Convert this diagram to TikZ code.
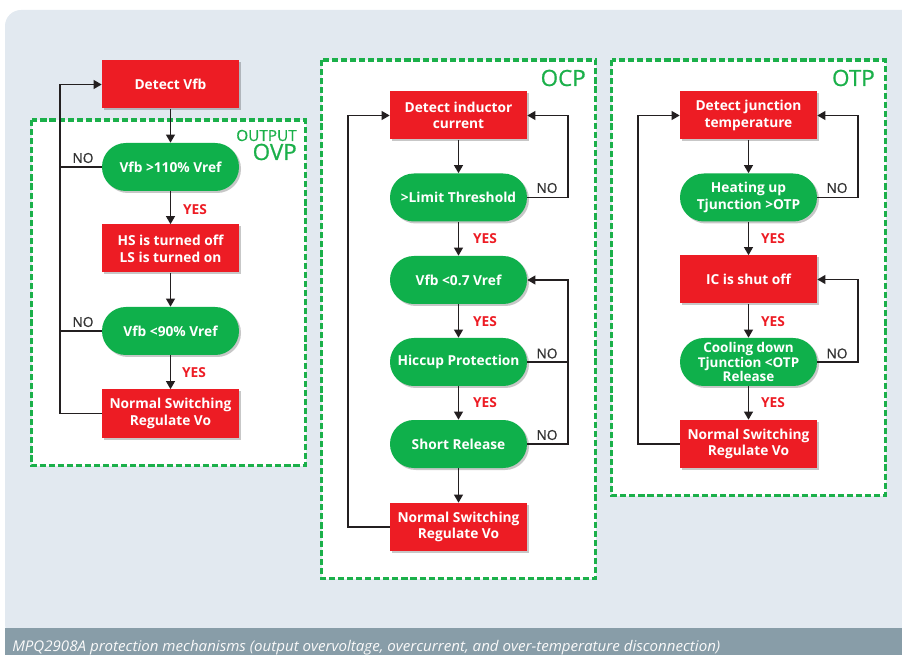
\documentclass[tikz,border=0pt]{standalone}
\usepackage{fontspec}
\setmainfont{Open Sans}
\newfontfamily\titlefont{Open Sans}[FakeBold=0.7]
\usetikzlibrary{arrows.meta,shadows}
\definecolor{mpsred}{HTML}{ED1C24}
\definecolor{mpsgreen}{HTML}{0FB04B}
\definecolor{dashgreen}{HTML}{1BB04A}
\definecolor{panelbg}{HTML}{E2E9F0}
\definecolor{capband}{HTML}{889DA8}
\definecolor{linegray}{HTML}{231F20}
\definecolor{nogray}{HTML}{333333}
\begin{document}
\begin{tikzpicture}[x=0.75pt,y=-0.75pt,
  base/.style={minimum width=102.75pt, minimum height=36pt, inner sep=0pt, align=center,
    text=white, font=\bfseries\fontsize{10.3}{12.5}\selectfont,
    drop shadow={opacity=0.22, shadow xshift=1.5pt, shadow yshift=-1.5pt, fill=black}},
  redbox/.style={base, fill=mpsred},
  pill/.style={base, fill=mpsgreen, rounded corners=17.9pt},
  tight/.style={font=\bfseries\fontsize{10.1}{10.6}\selectfont},
  frame/.style={draw=dashgreen, line width=2.3pt, dash pattern=on 4.6pt off 2.2pt, fill=white},
  conn/.style={draw=linegray, line width=1.25pt},
  arr/.style={conn, -{Triangle[length=6pt,width=6.5pt]}},
  yes/.style={text=mpsred, font=\bfseries\fontsize{10.3}{12}\selectfont, inner sep=0pt},
  no/.style={text=nogray, font=\titlefont\fontsize{10.3}{12}\selectfont, inner sep=0pt},
  ftitle/.style={text=dashgreen, anchor=base east, inner sep=0pt}]
\useasboundingbox (0,0) rectangle (902,655);
\clip (0,0) rectangle (902,655);
% background panel and caption band
\fill[panelbg, rounded corners=12] (5,10) rectangle (930,640);
\fill[capband] (5,628) rectangle (902,655);
\node[anchor=base west, inner sep=0pt, text=white!96!gray] (cap) at (12,651)
  {\resizebox{531pt}{8.4pt}{\itshape MPQ2908A protection mechanisms (output overvoltage, overcurrent, and over-temperature disconnection)}};

% dashed frames
\path[frame] (31.5,120) rectangle (305.5,465.5);
\path[frame] (321.5,60) rectangle (595.5,578.5);
\path[frame] (611.5,60) rectangle (885.5,495.5);
\node[ftitle, font=\titlefont\fontsize{11.5}{12}\selectfont] (t1) at (297,141) {OUTPUT};
\node[ftitle, font=\titlefont\fontsize{16.8}{18}\selectfont] (t2) at (297,160) {OVP};
\node[ftitle, font=\titlefont\fontsize{16.8}{18}\selectfont] (t3) at (586,86) {OCP};
\node[ftitle, font=\titlefont\fontsize{16.8}{18}\selectfont] (t4) at (875,86) {OTP};

% ---- OVP column ----
\node[redbox] (a1) at (170.5,84.5) {Detect Vfb};
\node[pill]   (a2) at (170.5,167) {Vfb >110\% Vref};
\node[redbox] (a3) at (170.5,248.5) {HS is turned off\\LS is turned on};
\node[pill]   (a4) at (170.5,331) {Vfb <90\% Vref};
\node[redbox] (a5) at (170.5,413.5) {Normal Switching\\Regulate Vo};
\coordinate (La) at (60,0);
\draw[arr] (a1) -- (a2);
\draw[arr] (a2) -- (a3);
\draw[arr] (a3) -- (a4);
\draw[arr] (a4) -- (a5);
\draw[arr] (a5.west) -- (La |- a5.west) -- (La |- a1.west) -- (a1.west);
\draw[conn] (a2.west) -- (La |- a2.west);
\draw[conn] (a4.west) -- (La |- a4.west);
\node[no]  (na1) at (83,158) {NO};
\node[no]  (na2) at (83,322) {NO};
\node[yes] (ya1) at (195,210) {YES};
\node[yes] (ya2) at (194,373) {YES};

% ---- OCP column ----
\node[redbox] (b1) at (458.5,115.5) {Detect inductor\\current};
\node[pill]   (b2) at (458.5,197.5) {>Limit Threshold};
\node[pill]   (b3) at (458.5,280) {Vfb <0.7 Vref};
\node[pill]   (b4) at (458.5,362) {Hiccup Protection};
\node[pill]   (b5) at (458.5,444) {Short Release};
\node[redbox] (b6) at (458.5,527) {Normal Switching\\Regulate Vo};
\coordinate (Lb) at (348,0);
\coordinate (Rb) at (568,0);
\draw[arr] (b1) -- (b2);
\draw[arr] (b2) -- (b3);
\draw[arr] (b3) -- (b4);
\draw[arr] (b4) -- (b5);
\draw[arr] (b5) -- (b6);
\draw[arr] (b6.west) -- (Lb |- b6.west) -- (Lb |- b1.west) -- (b1.west);
\draw[arr] (b2.east) -- (Rb |- b2.east) -- (Rb |- b1.east) -- (b1.east);
\draw[arr] (b5.east) -- (Rb |- b5.east) -- (Rb |- b3.east) -- (b3.east);
\draw[conn] (b4.east) -- (Rb |- b4.east);
\node[no]  (nb1) at (547,188) {NO};
\node[no]  (nb2) at (547,353.5) {NO};
\node[no]  (nb3) at (547,435) {NO};
\node[yes] (yb1) at (485,239) {YES};
\node[yes] (yb2) at (485,322) {YES};
\node[yes] (yb3) at (485,403) {YES};

% ---- OTP column ----
\node[redbox] (c1) at (748.5,115.5) {Detect junction\\temperature};
\node[pill]   (c2) at (748.5,197.5) {Heating up\\Tjunction >OTP};
\node[redbox] (c3) at (748.5,279.5) {IC is shut off};
\node[pill, tight] (c4) at (748.5,362) {Cooling down\\Tjunction <OTP\\Release};
\node[redbox] (c5) at (748.5,444) {Normal Switching\\Regulate Vo};
\coordinate (Lc) at (638,0);
\coordinate (Rc) at (858,0);
\draw[arr] (c1) -- (c2);
\draw[arr] (c2) -- (c3);
\draw[arr] (c3) -- (c4);
\draw[arr] (c4) -- (c5);
\draw[arr] (c5.west) -- (Lc |- c5.west) -- (Lc |- c1.west) -- (c1.west);
\draw[arr] (c2.east) -- (Rc |- c2.east) -- (Rc |- c1.east) -- (c1.east);
\draw[arr] (c4.east) -- (Rc |- c4.east) -- (Rc |- c3.east) -- (c3.east);
\node[no]  (nc1) at (837,188) {NO};
\node[no]  (nc2) at (837,353.5) {NO};
\node[yes] (yc1) at (773,239) {YES};
\node[yes] (yc2) at (773,322) {YES};
\node[yes] (yc3) at (773,403) {YES};
\end{tikzpicture}
\end{document}
